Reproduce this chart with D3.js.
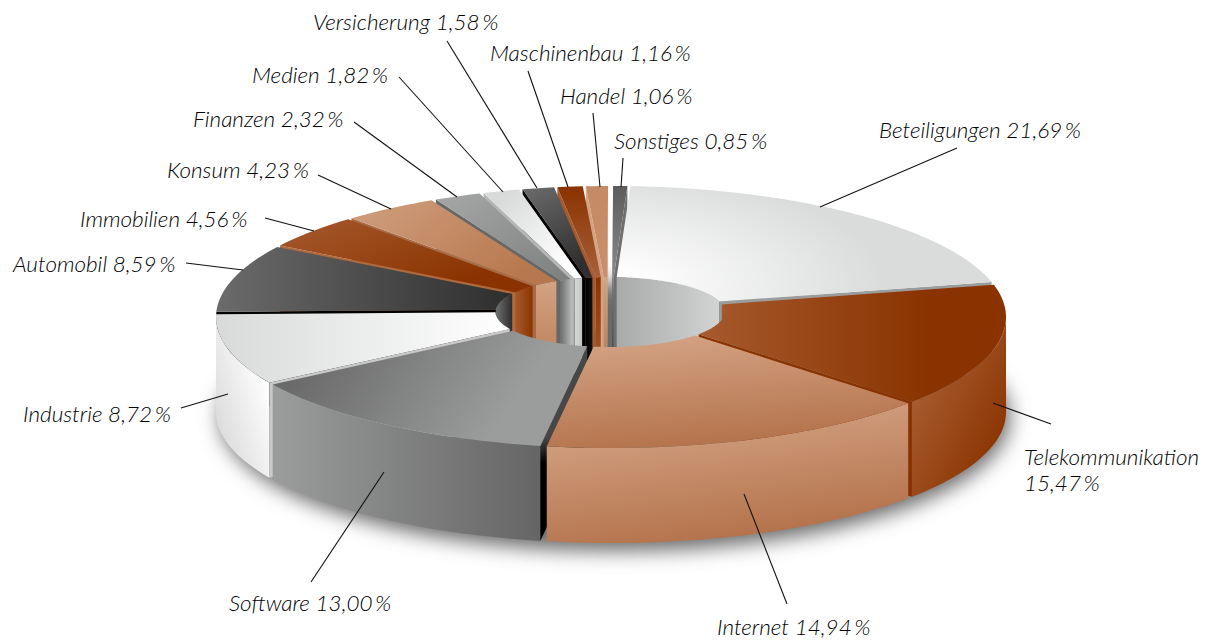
<!DOCTYPE html>
<html lang="de">
<head>
<meta charset="utf-8">
<title>Branchenverteilung</title>
<script src="https://cdn.jsdelivr.net/npm/d3@7/dist/d3.min.js"></script>
<style>
html, body { margin: 0; padding: 0; background: #fff; overflow: hidden; }
svg { display: block; }
text { font-family: Lato, "Open Sans", sans-serif; font-style: italic; font-weight: 300; font-size: 22.5px; fill: #000; }
</style>
</head>
<body>
<div id="chart"></div>
<script>
"use strict";

const categories = ["Beteiligungen", "Telekommunikation", "Internet", "Software", "Industrie", "Automobil", "Immobilien",
	"Konsum", "Finanzen", "Medien", "Versicherung", "Maschinenbau", "Handel", "Sonstiges"];
const values = [21.69, 15.47, 14.94, 13.00, 8.72, 8.59, 4.56, 4.23, 2.32, 1.82, 1.58, 1.16, 1.06, 0.85];

// gradient: [from, to, x1, y1, x2, y2] in bounding box units
const faceFills = [
	null, // Beteiligungen has its own radial one
	["#a65a2e", "#8a3300", 0, 0, 0.75, 0],
	["#d3a384", "#b3714a", 0.25, 0, 0.5, 1],
	["#636463", "#9b9d9c", 0, 0.3, 0.8, 0.5],
	["#d8dada", "#ffffff", 0, 0, 1, 0],
	["#6b6b6b", "#2e2e2e", 0, 0, 1, 0],
	["#a65a2e", "#8a3300", 0, 0, 0.9, 0.6],
	["#d0a080", "#b8784e", 0, 0, 1, 0.5],
	["#a6a8a7", "#7d7f7e", 0, 0, 1, 1],
	["#d9dbda", "#ffffff", 0, 0.3, 0.7, 1],
	["#6c6c6c", "#2f2f2f", 0, 0, 0.4, 1],
	["#8a3300", "#a8603a", 0, 0, 0, 1],
	["#c58a64", "#c98f6c", 0, 0, 0, 1],
	["#5c5c5c", "#8a8a8a", 0, 0, 0, 1]
];
const wallFills = [
	["#a8aaa9", "#d2d4d3", 0, 0, 1, 0],
	["#a65a2e", "#8a3300", 0.3, 0.2, 0.9, 0.8],
	["#d3a384", "#b3714a", 0.2, 0.1, 0.5, 1],
	["#9b9d9c", "#646564", 0, 0, 1, 0],
	["#ffffff", "#d6d6d6", 0.9, 0.3, 0.1, 1],
	["#707070", "#2e2e2e", 0, 0, 1, 0],
	["#8a3300", "#a65a2e", 1, 0, 0, 0],
	["#d3a384", "#b8784e", 0, 0, 0, 1],
	["#6f7170", "#b0b2b1", 0, 0, 1, 0],
	["#d9dbda", "#c2c4c3", 0, 0, 1, 0],
	["#000000", "#111111", 0, 0, 1, 0],
	["#8a3300", "#a65a2e", 0, 0, 0, 1],
	["#d3a384", "#b8784e", 0, 0, 0, 1],
	["#7a7a7a", "#3f3f3f", 0, 0, 0, 1]
];
const sideFills = ["#9b9d9c", "#8a3300", "#b3714a", ["#474747", "#000000", 0, 0.47, 0, 0.6], "#c9c9c9", "#000000", "#b06a3c", "#a86b44", "#666767", "#b5b7b6", "#000000", "#a65a2e", "#d3a384", "#6f6f6f"];
// strip between a slice and the next one, px
const gapAfter = [3, 2.5, 6, 2.5, 2.5, 2, 2, 3, 3, 3, 3, 3, 5, 3];

const labelLines = [
	{ x: 879, y: 138, from: [957, 148], to: [820, 207] },
	{ x: 1024, y: 465, from: [1051, 424], to: [993, 403], wrap: true },
	{ x: 717, y: 635, from: [787, 604], to: [744, 494] },
	{ x: 229, y: 611, from: [311, 582], to: [384, 472] },
	{ x: 23, y: 422, from: [181, 408], to: [228, 394] },
	{ x: 13, y: 272, from: [186, 263], to: [243, 270] },
	{ x: 80, y: 227, from: [265, 218], to: [314, 231] },
	{ x: 167, y: 178, from: [318, 175], to: [391, 209] },
	{ x: 193, y: 127, from: [354, 122], to: [457, 197] },
	{ x: 252, y: 83, from: [399, 77], to: [503, 192] },
	{ x: 313, y: 30, from: [447, 41], to: [537, 188] },
	{ x: 490, y: 61, from: [528, 71], to: [568, 187] },
	{ x: 560, y: 104, from: [593, 113], to: [600, 187] },
	{ x: 614, y: 149, from: [623, 158], to: [621, 187] }
];

const width = 1215;
const height = 640;
const depth = 95;
const outerRim = { cx: 611, cy: 317, rx: 395, ry: 131 };
const innerRim = { cx: 610, cy: 312, rx: 114.5, ry: 35 };

// the picture is a perspective view, so pie angles do not land evenly on the ellipse
const warp = d3.scaleLinear()
	.domain([0, 78, 134, 188, 234, 266, 297, 328, 349, 357, 360])
	.range([2.6, 75, 131, 190.3, 239, 272, 303, 333, 352, 360, 362.6]);

const rad = d => d * Math.PI / 180;
const onRim = (rim, deg) => [rim.cx + rim.rx * Math.sin(rad(deg)), rim.cy - rim.ry * Math.cos(rad(deg))];
const lowered = p => [p[0], p[1] + depth];
const line = d3.line();
const percent = v => v.toLocaleString("de-DE", { minimumFractionDigits: 2 }) + "\u2009%";

const svg = d3.select("#chart").append("svg")
	.attr("width", width)
	.attr("height", height)
	.attr("viewBox", `0 0 ${width} ${height}`);
const defs = svg.append("defs");

function addGradient(id, spec) {
	const g = defs.append("linearGradient").attr("id", id)
		.attr("x1", spec[2]).attr("y1", spec[3]).attr("x2", spec[4]).attr("y2", spec[5]);
	g.append("stop").attr("offset", 0).attr("stop-color", spec[0]);
	g.append("stop").attr("offset", 1).attr("stop-color", spec[1]);
	return `url(#${id})`;
}

const betGradient = defs.append("radialGradient").attr("id", "face0")
	.attr("gradientUnits", "userSpaceOnUse")
	.attr("cx", 0).attr("cy", 0).attr("r", 300)
	.attr("gradientTransform", "translate(600,285) scale(1,0.4)");
betGradient.append("stop").attr("offset", 0.1).attr("stop-color", "#ffffff");
betGradient.append("stop").attr("offset", 0.95).attr("stop-color", "#dadcdb");

defs.append("filter").attr("id", "blur")
	.attr("x", "-10%").attr("y", "-20%").attr("width", "120%").attr("height", "140%")
	.append("feGaussianBlur").attr("stdDeviation", 10);

// Shadow under the ring
svg.append("ellipse")
	.attr("cx", outerRim.cx + 4)
	.attr("cy", outerRim.cy + depth + 5)
	.attr("rx", outerRim.rx)
	.attr("ry", outerRim.ry + 3)
	.attr("fill", "#6a6a6a")
	.attr("filter", "url(#blur)");

const pie = d3.pie().value(d => d).sort(null);
const arcs = pie(values);
const boundaries = arcs.map(a => warp(a.endAngle * 180 / Math.PI));
boundaries.unshift(warp(0));

// how many degrees along a rim are needed to step a px away from the boundary line
function padAt(deg, rim, px) {
	const a = onRim(innerRim, deg);
	const b = onRim(outerRim, deg);
	const len = Math.hypot(b[0] - a[0], b[1] - a[1]);
	const n = [-(b[1] - a[1]) / len, (b[0] - a[0]) / len];
	const speed = Math.abs(rim.rx * Math.cos(rad(deg)) * n[0] + rim.ry * Math.sin(rad(deg)) * n[1]);
	return (px / speed) * 180 / Math.PI;
}

function sampled(rim, from, to) {
	const n = Math.max(2, Math.ceil(Math.abs(to - from) / 1.5));
	return d3.range(n + 1).map(i => onRim(rim, from + (to - from) * i / n));
}

const slices = arcs.map((a, i) => {
	const start = boundaries[i];
	const end = boundaries[i + 1];
	const gapBefore = gapAfter[(i + gapAfter.length - 1) % gapAfter.length] / 2;
	const gapEnd = gapAfter[i] / 2;
	const limit = (end - start) * 0.42;
	return {
		i,
		start,
		end,
		o0: start + Math.min(limit, padAt(start, outerRim, gapBefore)),
		o1: end - Math.min(limit, padAt(end, outerRim, gapEnd)),
		n0: start + Math.min(limit, padAt(start, innerRim, gapBefore)),
		n1: end - Math.min(limit, padAt(end, innerRim, gapEnd)),
		depthOrder: Math.cos(rad((start + end) / 2))
	};
});

const wall = (top) => line(top.concat(top.map(lowered).reverse())) + "Z";

function sideVisible(p, q, inside) {
	const e = [q[0] - p[0], q[1] - p[1]];
	const toInside = e[0] * (inside[1] - p[1]) - e[1] * (inside[0] - p[0]);
	const toDown = e[0] * depth;
	return toInside * toDown < 0;
}

const ring = svg.append("g");

// Painter's order, back slices first
slices.slice().sort((a, b) => d3.descending(a.depthOrder, b.depthOrder)).forEach(s => {
	const g = ring.append("g").attr("class", "slice");
	const faceFill = s.i === 0 ? "url(#face0)" : addGradient("face" + s.i, faceFills[s.i]);
	const wallFill = addGradient("wall" + s.i, wallFills[s.i]);
	const sideFill = Array.isArray(sideFills[s.i]) ? addGradient("side" + s.i, sideFills[s.i]) : sideFills[s.i];
	const outerPts = sampled(outerRim, s.o0, s.o1);
	const innerPts = sampled(innerRim, s.n0, s.n1);
	const mid = onRim({ cx: (outerRim.cx + innerRim.cx) / 2, cy: (outerRim.cy + innerRim.cy) / 2,
		rx: (outerRim.rx + innerRim.rx) / 2, ry: (outerRim.ry + innerRim.ry) / 2 }, (s.start + s.end) / 2);

	// inner wall only shows on the back half of the hole
	[[-90, 90], [270, 450]].forEach(([lo, hi]) => {
		const from = Math.max(s.n0, lo);
		const to = Math.min(s.n1, hi);
		if (to > from) {
			g.append("path").attr("d", wall(sampled(innerRim, from, to))).attr("fill", wallFill);
		}
	});

	// outer wall only on the front half
	const from = Math.max(s.o0, 90);
	const to = Math.min(s.o1, 270);
	if (to > from) {
		g.append("path").attr("d", wall(sampled(outerRim, from, to))).attr("fill", wallFill);
	}

	// cut faces
	[[innerPts[0], outerPts[0]], [innerPts[innerPts.length - 1], outerPts[outerPts.length - 1]]].forEach(([p, q]) => {
		if (sideVisible(p, q, mid)) {
			g.append("path").attr("d", wall([p, q])).attr("fill", sideFill);
		}
	});

	g.append("path")
		.attr("d", line(outerPts.concat(innerPts.slice().reverse())) + "Z")
		.attr("fill", faceFill);
});

// Leader lines and labels
const labels = svg.append("g");
categories.forEach((name, i) => {
	const spot = labelLines[i];
	labels.append("path")
		.attr("d", line([spot.from, spot.to]))
		.attr("fill", "none")
		.attr("stroke", "#111")
		.attr("stroke-width", 1.1);
	if (spot.wrap) {
		labels.append("text").attr("x", spot.x).attr("y", spot.y).text(name);
		labels.append("text").attr("x", spot.x).attr("y", spot.y + 26).text(percent(values[i]));
	} else {
		labels.append("text").attr("x", spot.x).attr("y", spot.y).text(`${name} ${percent(values[i])}`);
	}
});
</script>
</body>
</html>
